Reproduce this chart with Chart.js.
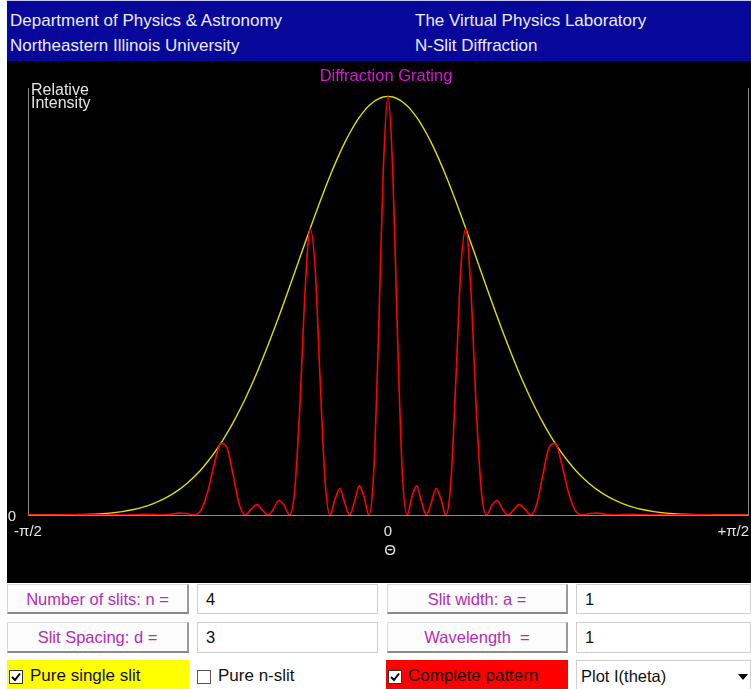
<!DOCTYPE html>
<html>
<head>
<meta charset="utf-8">
<script src="https://cdn.jsdelivr.net/npm/chart.js@4.4.1/dist/chart.umd.min.js"></script>
<style>
  html,body{margin:0;padding:0;background:#fff;}
  body{width:751px;height:689px;position:relative;overflow:hidden;font-family:"Liberation Sans",Arial,sans-serif;}
  #hdr{position:absolute;left:7px;top:0;width:744px;height:61px;background:#07079a;border-top:1px solid #c8c8ec;box-sizing:border-box;}
  .ht{position:absolute;color:#ececff;font-size:17px;white-space:nowrap;}
  #plot{position:absolute;left:7px;top:61px;width:744px;height:522px;background:#000;}
  .btn{position:absolute;box-sizing:border-box;background:#fcfcfc;border-top:1px solid #d8d8d8;border-left:1px solid #d8d8d8;border-right:2px solid #9a9a9a;border-bottom:2px solid #8a8a8a;color:#b32cb3;font-size:16.5px;text-align:center;white-space:nowrap;}
  .inp{position:absolute;box-sizing:border-box;background:#fff;border:1px solid #cfcfcf;color:#111;font-size:16.5px;padding-left:8px;white-space:nowrap;}
  .chk{position:absolute;box-sizing:border-box;font-size:17px;white-space:nowrap;}
  .cb{position:absolute;}
</style>
</head>
<body>
<div id="hdr">
  <div class="ht" style="left:3px;top:10px;">Department of Physics &amp; Astronomy</div>
  <div class="ht" style="left:3px;top:35px;">Northeastern Illinois University</div>
  <div class="ht" style="left:408px;top:10px;">The Virtual Physics Laboratory</div>
  <div class="ht" style="left:408px;top:35px;">N-Slit Diffraction</div>
</div>
<div id="plot"><canvas id="c" width="744" height="522"></canvas></div>

<div class="btn" style="left:7px;top:584px;width:182px;height:30px;line-height:28px;">Number of slits: n =</div>
<div class="inp" style="left:197px;top:584px;width:181px;height:30px;line-height:28px;">4</div>
<div class="btn" style="left:387px;top:584px;width:181px;height:30px;line-height:28px;">Slit width: a =</div>
<div class="inp" style="left:576px;top:584px;width:175px;height:30px;line-height:28px;">1</div>

<div class="btn" style="left:7px;top:622px;width:182px;height:31px;line-height:29px;">Slit Spacing: d =</div>
<div class="inp" style="left:197px;top:622px;width:181px;height:31px;line-height:29px;">3</div>
<div class="btn" style="left:387px;top:622px;width:181px;height:31px;line-height:29px;">Wavelength &nbsp;=</div>
<div class="inp" style="left:576px;top:622px;width:175px;height:31px;line-height:29px;">1</div>

<div class="chk" style="left:7px;top:660px;width:182px;height:29px;background:#ffff00;color:#111;">
  <svg class="cb" style="left:2px;top:10px;" width="14" height="14"><rect x="0.5" y="0.5" width="13" height="13" fill="#fff" stroke="#333"/><path d="M3 7 L6 10 L11 3.5" fill="none" stroke="#000" stroke-width="2"/></svg>
  <span style="position:absolute;left:23px;top:6px;">Pure single slit</span>
</div>
<div class="chk" style="left:197px;top:660px;width:181px;height:29px;color:#111;">
  <svg class="cb" style="left:0px;top:10px;" width="14" height="14"><rect x="0.5" y="0.5" width="13" height="13" fill="#fff" stroke="#555"/></svg>
  <span style="position:absolute;left:21px;top:6px;">Pure n-slit</span>
</div>
<div class="chk" style="left:386px;top:660px;width:182px;height:29px;background:#ff0000;color:#1a0000;">
  <svg class="cb" style="left:2px;top:10px;" width="14" height="14"><rect x="0.5" y="0.5" width="13" height="13" fill="#fff" stroke="#333"/><path d="M3 7 L6 10 L11 3.5" fill="none" stroke="#000" stroke-width="2"/></svg>
  <span style="position:absolute;left:22px;top:6px;">Complete pattern</span>
</div>
<div class="inp" style="left:576px;top:660px;width:175px;height:29px;line-height:31px;padding-left:4px;border-bottom:none;">Plot I(theta)
  <svg style="position:absolute;right:2px;top:13px;" width="10" height="6"><path d="M0 0 L10 0 L5 6 Z" fill="#000"/></svg>
</div>

<script>
// Angle theta (radians) of each sample
const thetaRad = [
 -1.5708,-1.3663,-1.2811,-1.2154,-1.1597,-1.1104,-1.0654,-1.0240,-0.9852,-0.9485,
 -0.9136,-0.8802,-0.8481,-0.8171,-0.7872,-0.7581,-0.7297,-0.7021,-0.6752,-0.6487,
 -0.6229,-0.5974,-0.5724,-0.5479,-0.5236,-0.4997,-0.4761,-0.4528,-0.4298,-0.4070,
 -0.3844,-0.3620,-0.3398,-0.3178,-0.2960,-0.2743,-0.2527,-0.2312,-0.2099,-0.1886,
 -0.1674,-0.1464,-0.1253,-0.1044,-0.0834,-0.0625,-0.0417,-0.0208,
 0,
 0.0208,0.0417,0.0625,0.0834,0.1044,0.1253,0.1464,0.1674,0.1886,0.2099,
 0.2312,0.2527,0.2743,0.2960,0.3178,0.3398,0.3620,0.3844,0.4070,0.4298,
 0.4528,0.4761,0.4997,0.5236,0.5479,0.5724,0.5974,0.6229,0.6487,0.6752,
 0.7021,0.7297,0.7581,0.7872,0.8171,0.8481,0.8802,0.9136,0.9485,0.9852,
 1.0240,1.0654,1.1104,1.1597,1.2154,1.2811,1.3663,1.5708
];
// Pure single slit envelope (yellow)
const singleSlit = [
 0,0.0005,0.0019,0.0044,0.0081,0.0130,0.0194,0.0272,0.0365,0.0474,
 0.0599,0.0741,0.0901,0.1077,0.1271,0.1482,0.1710,0.1954,0.2214,0.2489,
 0.2778,0.3080,0.3394,0.3719,0.4053,0.4394,0.4741,0.5092,0.5445,0.5798,
 0.6150,0.6498,0.6839,0.7173,0.7497,0.7808,0.8106,0.8387,0.8651,0.8896,
 0.9119,0.9320,0.9496,0.9648,0.9774,0.9872,0.9943,0.9986,
 1,
 0.9986,0.9943,0.9872,0.9774,0.9648,0.9496,0.9320,0.9119,0.8896,0.8651,
 0.8387,0.8106,0.7808,0.7497,0.7173,0.6839,0.6498,0.6150,0.5798,0.5445,
 0.5092,0.4741,0.4394,0.4053,0.3719,0.3394,0.3080,0.2778,0.2489,0.2214,
 0.1954,0.1710,0.1482,0.1271,0.1077,0.0901,0.0741,0.0599,0.0474,0.0365,
 0.0272,0.0194,0.0130,0.0081,0.0044,0.0019,0.0005,0
];
// Complete pattern (red)
const completePattern = [
 0,0.0004,0.0008,0.0004,0,0.0006,0.0014,0.0009,0,0.0015,
 0.0044,0.0034,0,0.0109,0.0543,0.1217,0.1710,0.1604,0.0945,0.0252,
 0,0.0139,0.0249,0.0121,0,0.0143,0.0347,0.0230,0,0.0587,
 0.2625,0.5335,0.6839,0.5889,0.3199,0.0791,0,0.0379,0.0634,0.0289,
 0,0.0303,0.0695,0.0436,0,0.1000,0.4244,0.8199,
 1,
 0.8199,0.4244,0.1000,0,0.0436,0.0695,0.0303,0,0.0289,0.0634,
 0.0379,0,0.0791,0.3199,0.5889,0.6839,0.5335,0.2625,0.0587,0,
 0.0230,0.0347,0.0143,0,0.0121,0.0249,0.0139,0,0.0252,0.0945,
 0.1604,0.1710,0.1217,0.0543,0.0109,0,0.0034,0.0044,0.0015,0,
 0.0009,0.0014,0.0006,0,0.0004,0.0008,0.0004,0
];
const xTickValues = [-Math.PI/2, 0, Math.PI/2];
const xTickLabels = ['-\u03C0/2', '0', '+\u03C0/2'];
const yTickLabel = '0';
const chartTitle = 'Diffraction Grating';
const yAxisTitle = ['Relative', 'Intensity'];
const xAxisTitle = '\u0398';

const pts = (ys) => thetaRad.map((t, i) => ({x: t, y: ys[i]}));

const FONT = '"Liberation Sans", Arial, sans-serif';
const labelPlugin = {
  id: 'labels',
  afterDraw(chart) {
    const ctx = chart.ctx;
    const xs = chart.scales.x, ys = chart.scales.y;
    const y0 = ys.getPixelForValue(0);
    const top = chart.chartArea.top;
    ctx.save();
    ctx.fillStyle = '#e4e4e4';
    ctx.font = '15px ' + FONT;
    ctx.textBaseline = 'alphabetic';
    xTickValues.forEach((v, i) => {
      const px = xs.getPixelForValue(v);
      ctx.textAlign = i === xTickValues.length - 1 ? 'right' : 'center';
      ctx.fillText(xTickLabels[i], px + (i === xTickValues.length - 1 ? 1 : 0), y0 + 21);
    });
    ctx.textAlign = 'right';
    ctx.fillText(yTickLabel, xs.getPixelForValue(xTickValues[0]) - 12, y0 + 6);
    ctx.textAlign = 'center';
    ctx.fillText(xAxisTitle, xs.getPixelForValue(0) + 2, y0 + 40);
    ctx.textAlign = 'left';
    ctx.font = '16px ' + FONT;
    ctx.fillText(yAxisTitle[0], xs.left + 3, top + 7);
    ctx.fillText(yAxisTitle[1], xs.left + 3, top + 20);
    ctx.fillStyle = '#d814d8';
    ctx.textAlign = 'center';
    ctx.font = '16.5px ' + FONT;
    ctx.fillText(chartTitle, xs.getPixelForValue(0) - 2, top - 7);
    ctx.restore();
  }
};

new Chart(document.getElementById('c'), {
  type: 'line',
  data: {
    datasets: [
      {data: pts(completePattern), borderColor: '#ff0000', borderWidth: 1.6, pointRadius: 0, cubicInterpolationMode: 'monotone', fill: false},
      {data: pts(singleSlit), borderColor: '#dede00', borderWidth: 1.4, pointRadius: 0, cubicInterpolationMode: 'monotone', fill: false}
    ]
  },
  options: {
    responsive: false,
    devicePixelRatio: 1,
    animation: false,
    layout: {padding: {left: 21, right: 3, top: 27, bottom: 68}},
    plugins: {legend: {display: false}, tooltip: {enabled: false}},
    scales: {
      x: {type: 'linear', min: -Math.PI/2, max: Math.PI/2, grid: {display: false, drawTicks: false}, ticks: {display: false}, border: {display: true, color: '#8a8a8a', width: 1}},
      y: {type: 'linear', min: 0, max: 1.02, grid: {display: false, drawTicks: false}, ticks: {display: false}, border: {display: true, color: '#8a8a8a', width: 1}},
      y2: {type: 'linear', position: 'right', min: 0, max: 1.02, grid: {display: false, drawTicks: false}, ticks: {display: false}, border: {display: true, color: '#8a8a8a', width: 1}}
    }
  },
  plugins: [labelPlugin]
});
</script>
</body>
</html>
